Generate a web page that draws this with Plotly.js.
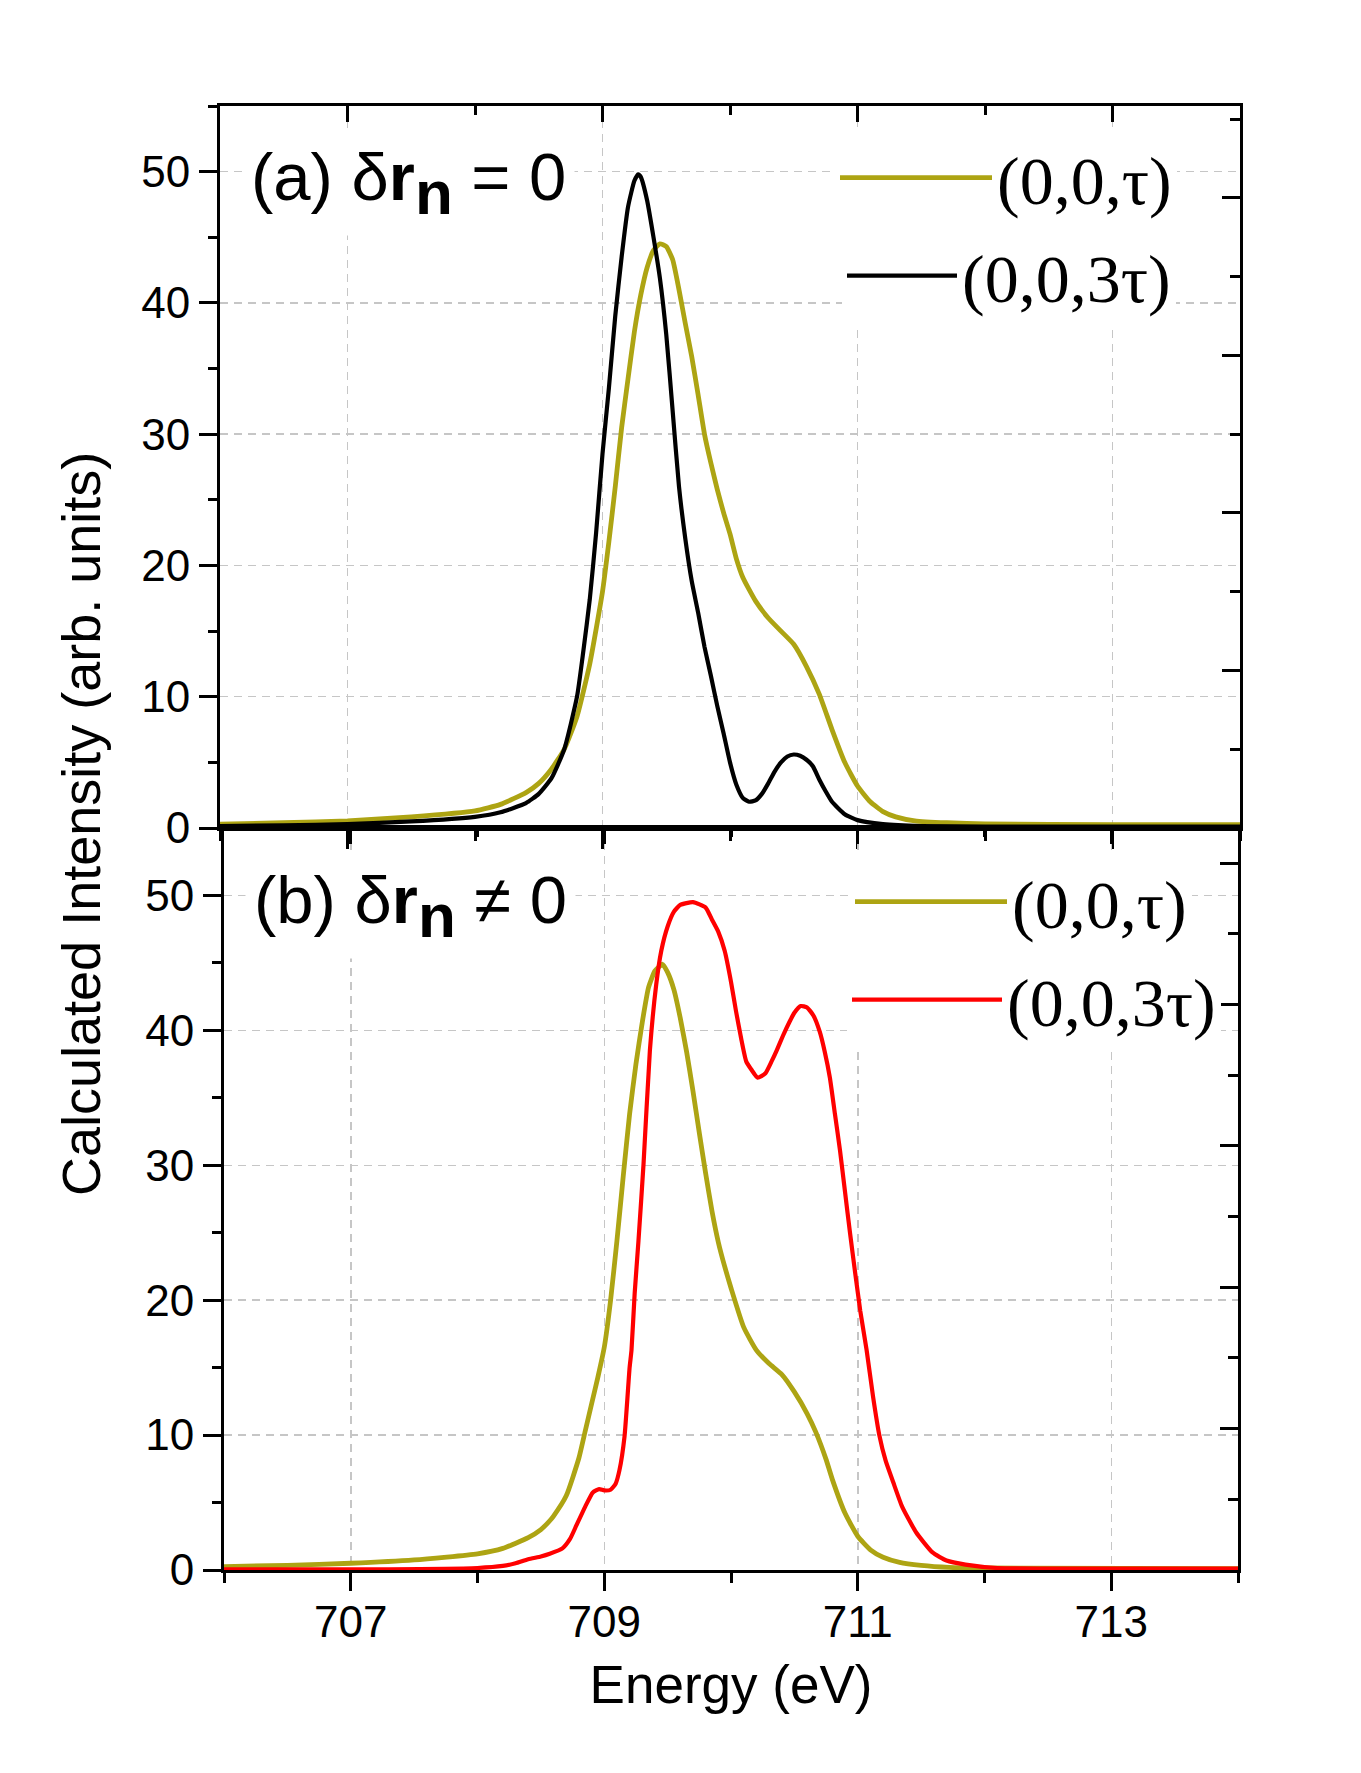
<!DOCTYPE html>
<html>
<head>
<meta charset="utf-8">
<script src="https://cdn.plot.ly/plotly-3.0.1.min.js"></script>
<style>
  html, body { margin: 0; padding: 0; background: #ffffff; }
  #chart { width: 1361px; height: 1773px; }
</style>
</head>
<body>
<div id="chart"></div>
<script>
// ---------------- Data ----------------
// Panel (a): delta r_n = 0
const eGoldA = [706.0, 706.5, 707.0, 707.5, 708.0, 708.2, 708.4, 708.5, 708.6, 708.7, 708.8, 708.9, 709.0, 709.05, 709.1, 709.15, 709.2, 709.25, 709.3, 709.35, 709.4, 709.45, 709.5, 709.55, 709.6, 709.65, 709.7, 709.75, 709.8, 709.85, 709.9, 709.95, 710.0, 710.05, 710.1, 710.2, 710.3, 710.4, 710.5, 710.6, 710.7, 710.8, 710.9, 711.0, 711.1, 711.2, 711.3, 711.45, 711.7, 712.0, 713.0, 714.0];
const iGoldA = [0.3, 0.4, 0.55, 0.85, 1.3, 1.8, 2.7, 3.4, 4.5, 6.0, 8.5, 12.5, 18.0, 21.8, 26.0, 30.5, 34.2, 37.8, 40.6, 42.7, 44.0, 44.5, 44.3, 43.3, 41.0, 38.4, 35.9, 33.0, 30.0, 27.8, 25.8, 24.0, 22.4, 20.5, 19.1, 17.3, 16.0, 15.0, 14.0, 12.3, 10.2, 7.5, 5.0, 3.2, 2.0, 1.25, 0.85, 0.55, 0.4, 0.32, 0.25, 0.25];

const eBlackA = [706.0, 706.5, 707.0, 707.5, 708.0, 708.2, 708.4, 708.5, 708.6, 708.7, 708.8, 708.85, 708.9, 708.95, 709.0, 709.05, 709.1, 709.15, 709.2, 709.25, 709.28, 709.3, 709.35, 709.4, 709.45, 709.5, 709.55, 709.6, 709.65, 709.7, 709.75, 709.8, 709.85, 709.9, 709.95, 710.0, 710.05, 710.1, 710.15, 710.2, 710.25, 710.3, 710.35, 710.4, 710.45, 710.5, 710.55, 710.6, 710.65, 710.7, 710.75, 710.8, 710.9, 711.0, 711.2, 711.5, 712.0, 714.0];
const iBlackA = [0.15, 0.2, 0.3, 0.5, 0.85, 1.2, 1.9, 2.6, 3.8, 6.0, 10.0, 13.5, 17.4, 22.5, 28.5, 33.5, 39.0, 43.5, 47.3, 49.3, 49.8, 49.6, 47.8, 45.0, 41.9, 37.6, 31.8, 26.0, 22.0, 18.8, 16.4, 13.8, 11.6, 9.3, 7.2, 5.0, 3.3, 2.3, 2.0, 2.1, 2.6, 3.4, 4.3, 5.0, 5.45, 5.6, 5.5, 5.2, 4.7, 3.7, 2.8, 2.0, 1.05, 0.6, 0.3, 0.15, 0.1, 0.1];

// Panel (b): delta r_n != 0
const eGoldB = [706.0, 706.5, 707.0, 707.5, 708.0, 708.2, 708.4, 708.5, 708.57, 708.6, 708.7, 708.8, 708.85, 708.9, 708.95, 709.0, 709.05, 709.1, 709.15, 709.2, 709.25, 709.3, 709.35, 709.4, 709.46, 709.5, 709.55, 709.6, 709.65, 709.7, 709.75, 709.8, 709.85, 709.9, 709.95, 710.0, 710.1, 710.2, 710.3, 710.4, 710.5, 710.6, 710.67, 710.75, 710.8, 710.9, 711.0, 711.1, 711.2, 711.33, 711.5, 711.72, 712.0, 714.0];
const iGoldB = [0.25, 0.35, 0.5, 0.75, 1.2, 1.6, 2.4, 3.0, 3.65, 4.0, 5.5, 8.3, 10.3, 12.3, 14.3, 16.5, 20.0, 24.4, 29.2, 33.8, 37.5, 40.6, 43.2, 44.4, 44.9, 44.3, 43.0, 40.9, 38.4, 35.5, 32.4, 29.4, 26.6, 24.3, 22.5, 20.9, 18.0, 16.3, 15.3, 14.5, 13.2, 11.6, 10.2, 8.2, 6.7, 4.2, 2.5, 1.5, 0.95, 0.57, 0.35, 0.2, 0.15, 0.1];

const eRedB = [706.0, 707.0, 708.0, 708.2, 708.3, 708.4, 708.5, 708.57, 708.67, 708.73, 708.78, 708.85, 708.91, 708.96, 709.0, 709.05, 709.09, 709.12, 709.16, 709.2, 709.215, 709.24, 709.27, 709.31, 709.36, 709.41, 709.45, 709.5, 709.55, 709.6, 709.7, 709.8, 709.85, 709.9, 709.95, 710.0, 710.04, 710.08, 710.12, 710.16, 710.21, 710.27, 710.32, 710.36, 710.41, 710.46, 710.5, 710.55, 710.6, 710.65, 710.7, 710.74, 710.78, 710.82, 710.86, 710.9, 710.94, 710.98, 711.02, 711.07, 711.12, 711.17, 711.22, 711.28, 711.35, 711.46, 711.59, 711.7, 711.85, 712.1, 713.0, 714.0];
const iRedB = [0.05, 0.05, 0.15, 0.3, 0.5, 0.8, 1.0, 1.2, 1.6, 2.3, 3.3, 4.7, 5.75, 6.0, 5.9, 5.95, 6.4, 7.4, 9.9, 15.0, 16.3, 20.5, 24.4, 30.1, 38.5, 43.4, 45.9, 47.7, 48.8, 49.3, 49.5, 49.1, 48.2, 47.3, 45.9, 43.6, 41.4, 39.4, 37.7, 37.1, 36.5, 36.8, 37.7, 38.5, 39.6, 40.6, 41.3, 41.8, 41.7, 41.1, 39.9, 38.4, 36.5, 33.8, 31.1, 28.0, 24.9, 22.0, 19.2, 16.3, 12.9, 10.0, 8.1, 6.5, 4.7, 2.8, 1.3, 0.7, 0.4, 0.15, 0.1, 0.1];

// Labels and ticks
const seriesNames = ['(0,0,\u03C4)', '(0,0,3\u03C4)'];
const panelLabelA = '(a) \u03B4<b>r</b><sub><span style="font-size:62px"><b>n</b></span></sub> = 0';
const panelLabelB = '(b) \u03B4<b>r</b><sub><span style="font-size:62px"><b>n</b></span></sub> \u2260 0';
const xTitle = 'Energy (eV)';
const yTitle = 'Calculated Intensity (arb. units)';
const xTickVals = [707, 709, 711, 713];
const xTickText = ['707', '709', '711', '713'];
const xMinorVals = [706, 708, 710, 712, 714];
const yTickVals = [0, 10, 20, 30, 40, 50];
const yTickText = ['0', '10', '20', '30', '40', '50'];
const yMinorVals = [5, 15, 25, 35, 45, 55];
const rightMajorA = [12, 24, 36, 48];
const rightMinorA = [6, 18, 30, 42, 54];
const rightMajorB = [10.48, 20.96, 31.44, 41.92, 52.4];
const rightMinorB = [5.24, 15.72, 26.2, 36.68, 47.16];

// ---------------- Styles ----------------
const GOLD = '#ADA413';
const sansFont = 'Arial, "Liberation Sans", sans-serif';
const serifFont = '"Times New Roman", "Liberation Serif", serif';
const W = 1361, H = 1773;
const px = v => v / W;
const py = v => 1 - v / H;

const domXA = [px(220), px(1240)];
const domXB = [px(224), px(1238)];
const domYA = [py(828), py(106)];
const domYB = [py(1570), py(828)];

const base = {
  showline: true, linecolor: '#000', linewidth: 3, zeroline: false,
  tickcolor: '#000', tickwidth: 3, fixedrange: true
};
const grid = { showgrid: true, gridcolor: '#c6c6c6', gridwidth: 1.5, griddash: '8px,6px' };
const tickFont = { family: sansFont, size: 44, color: '#000' };

function xMain(domain, anchor, showLabels) {
  return Object.assign({}, base, grid, {
    domain: domain, anchor: anchor, range: [706, 714],
    tickmode: 'array', tickvals: xTickVals, ticktext: xTickText,
    ticks: 'outside', ticklen: 18, showticklabels: showLabels, tickfont: tickFont,
    ticklabelstandoff: -7,
    minor: { tickmode: 'array', tickvals: xMinorVals, ticks: 'outside', ticklen: 10, tickwidth: 3, tickcolor: '#000', showgrid: false }
  });
}
function xTop(over, anchor) {
  return Object.assign({}, base, {
    overlaying: over, side: 'top', anchor: anchor, range: [706, 714],
    tickmode: 'array', tickvals: xTickVals, ticks: 'inside', ticklen: 16,
    showticklabels: false, showgrid: false,
    minor: { tickmode: 'array', tickvals: xMinorVals, ticks: 'inside', ticklen: 9, tickwidth: 3, tickcolor: '#000', showgrid: false }
  });
}
function yMain(domain, anchor) {
  return Object.assign({}, base, grid, {
    domain: domain, anchor: anchor, range: [0, 55],
    tickmode: 'array', tickvals: yTickVals, ticktext: yTickText,
    ticks: 'outside', ticklen: 18, tickfont: tickFont,
    minor: { tickmode: 'array', tickvals: yMinorVals, ticks: 'outside', ticklen: 9, tickwidth: 3, tickcolor: '#000', showgrid: false }
  });
}
function yRight(over, anchor, major, minor) {
  return Object.assign({}, base, {
    overlaying: over, side: 'right', anchor: anchor, range: [0, 55],
    tickmode: 'array', tickvals: major, ticks: 'inside', ticklen: 18,
    showticklabels: false, showgrid: false,
    minor: { tickmode: 'array', tickvals: minor, ticks: 'inside', ticklen: 10, tickwidth: 3, tickcolor: '#000', showgrid: false }
  });
}

function curve(x, y, xa, ya, name, legend, color, width) {
  return { x: x, y: y, xaxis: xa, yaxis: ya, name: name, legend: legend, mode: 'lines',
    line: { color: color, width: width, shape: 'spline', smoothing: 0.5 }, hoverinfo: 'skip' };
}
// invisible carriers so that the mirror (top / right) axes get drawn
function carrier(x, y, xa, ya) {
  return { x: x, y: y, xaxis: xa, yaxis: ya, mode: 'lines', opacity: 0,
    line: { width: 0, color: 'rgba(0,0,0,0)' }, showlegend: false, hoverinfo: 'skip' };
}

const traces = [
  curve(eGoldA, iGoldA, 'x', 'y', seriesNames[0], 'legend', GOLD, 4.8),
  curve(eBlackA, iBlackA, 'x', 'y', seriesNames[1], 'legend2', '#000000', 4.2),
  curve(eGoldB, iGoldB, 'x2', 'y2', seriesNames[0], 'legend3', GOLD, 4.8),
  curve(eRedB, iRedB, 'x2', 'y2', seriesNames[1], 'legend4', '#FF0000', 4.2),
  carrier(eGoldA, iGoldA, 'x3', 'y'),
  carrier(eGoldA, iGoldA, 'x', 'y3'),
  carrier(eGoldB, iGoldB, 'x4', 'y2'),
  carrier(eGoldB, iGoldB, 'x2', 'y4')
];

const legendFont = { family: serifFont, size: 68, color: '#000' };
function legendAt(x, y, w) {
  return { x: x, y: y, xanchor: 'left', yanchor: 'middle', bgcolor: '#ffffff',
    borderwidth: 0, font: legendFont, itemwidth: w, tracegroupgap: 0 };
}

const layout = {
  width: W, height: H,
  margin: { l: 0, r: 0, t: 0, b: 0 },
  paper_bgcolor: '#ffffff', plot_bgcolor: '#ffffff',
  showlegend: true,
  font: { family: sansFont, color: '#000' },
  xaxis: xMain(domXA, 'y', false),
  xaxis2: Object.assign(xMain(domXB, 'y2', true), {
    title: { text: xTitle, font: { family: sansFont, size: 53, color: '#000' }, standoff: 22 }
  }),
  xaxis3: xTop('x', 'y'),
  xaxis4: xTop('x2', 'y2'),
  yaxis: yMain(domYA, 'x'),
  yaxis2: yMain(domYB, 'x2'),
  yaxis3: yRight('y', 'x', rightMajorA, rightMinorA),
  yaxis4: yRight('y2', 'x2', rightMajorB, rightMinorB),
  legend: legendAt(px(835), py(178), 152),
  legend2: legendAt(px(842), py(276), 110),
  legend3: legendAt(px(850), py(902), 152),
  legend4: legendAt(px(847), py(1000), 150),
  annotations: [
    { text: panelLabelA, xref: 'paper', yref: 'paper', x: px(242), y: py(130),
      xanchor: 'left', yanchor: 'top', showarrow: false, bgcolor: '#ffffff', borderpad: 8,
      font: { family: sansFont, size: 67, color: '#000' } },
    { text: panelLabelB, xref: 'paper', yref: 'paper', x: px(245), y: py(853),
      xanchor: 'left', yanchor: 'top', showarrow: false, bgcolor: '#ffffff', borderpad: 8,
      font: { family: sansFont, size: 67, color: '#000' } },
    { text: yTitle, xref: 'paper', yref: 'paper', x: px(81), y: py(824),
      xanchor: 'center', yanchor: 'middle', textangle: -90, showarrow: false,
      font: { family: sansFont, size: 54, color: '#000' } }
  ]
};

Plotly.newPlot('chart', traces, layout, { staticPlot: true, displayModeBar: false });
</script>
</body>
</html>
